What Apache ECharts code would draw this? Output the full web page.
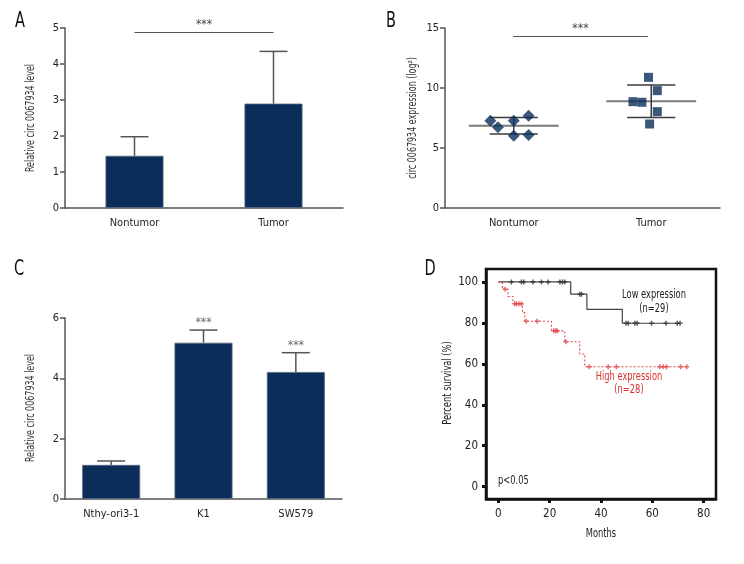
<!DOCTYPE html>
<html><head><meta charset="utf-8">
<script src="https://cdn.jsdelivr.net/npm/echarts@6/dist/echarts.min.js"></script>
<style>html,body{margin:0;padding:0;background:#fff}#c{width:744px;height:564px}</style>
</head><body><div id="c"></div>
<script>
// ---- Panel A ----
const catsA = ['Nontumor', 'Tumor'];
const meanA = [1.45, 2.9];
const errA = [0.53, 1.45];
const sigAValue = 4.89;
// ---- Panel B ----
const catsB = ['Nontumor', 'Tumor'];
const nontumorVals = [7.28, 6.72, 7.28, 7.69, 6.03, 6.08];
const nontumorJitter = [-0.17, -0.115, 0, 0.108, 0, 0.108];
const tumorVals = [10.89, 9.78, 8.86, 8.81, 8.03, 7.0];
const tumorJitter = [-0.02, 0.044, -0.133, -0.068, 0.044, -0.012];
const sigBValue = 14.33;
// ---- Panel C ----
const catsC = ['Nthy-ori3-1', 'K1', 'SW579'];
const meanC = [1.13, 5.18, 4.21];
const errC = [0.13, 0.42, 0.64];
const sigC = ['', '***', '***'];
// ---- Panel D (Kaplan-Meier) ----
const lowTimes = [0, 28.2, 34.5, 48.3, 70.8];
const lowSurv = [100, 94.0, 86.6, 79.8, 79.8];
const lowCensor = [5.1, 9.0, 9.9, 13.5, 16.8, 19.4, 24.0, 25.0, 25.9, 31.7, 32.4, 49.7, 50.6, 53.2, 54.1, 59.7, 65.3, 69.7, 70.8];
const highTimes = [0, 1.55, 3.75, 5.7, 9.4, 10.3, 20.7, 25.9, 31.7, 33.7, 73.4];
const highSurv = [100, 96.4, 92.9, 89.3, 85.0, 80.8, 76.1, 70.8, 64.8, 58.6, 58.6];
const highCensor = [2.7, 6.4, 7.0, 8.0, 9.0, 10.9, 15.1, 21.6, 22.4, 22.9, 26.3, 35.4, 42.8, 46.0, 62.9, 64.2, 65.5, 71.0, 73.4];
const kmTicks = [0, 20, 40, 60, 80];
const kmYTicks = [0, 20, 40, 60, 80, 100];

const FONT = '"Liberation Sans Narrow","DejaVu Sans Condensed","Liberation Sans",sans-serif';
const NAVY = '#0a2d5a';
const AX = '#555';
const SQ = 0.77; // horizontal squeeze to mimic the condensed typeface

function stepValue(times, surv, t) {
  let v = surv[0];
  for (let i = 0; i < times.length; i++) { if (times[i] <= t) v = surv[i]; }
  return v;
}
function meanSd(a) {
  const m = a.reduce((s, v) => s + v, 0) / a.length;
  const sd = Math.sqrt(a.reduce((s, v) => s + (v - m) * (v - m), 0) / (a.length - 1));
  return [m, sd];
}
function errRender(params, api) {
  const x = api.value(0), v = api.value(1), e = api.value(2);
  const p0 = api.coord([x, v]);
  const p1 = api.coord([x, v + e]);
  const cap = 14;
  return {type: 'group', children: [
    {type: 'line', shape: {x1: p0[0], y1: p0[1], x2: p1[0], y2: p1[1]}, style: {stroke: AX, lineWidth: 1.5}},
    {type: 'line', shape: {x1: p1[0] - cap, y1: p1[1], x2: p1[0] + cap, y2: p1[1]}, style: {stroke: AX, lineWidth: 1.5}}
  ]};
}
const statsB = [meanSd(nontumorVals), meanSd(tumorVals)];
function summaryRender(params, api) {
  const cx = api.value(0), m = api.value(1), sd = api.value(2);
  const pm = api.coord([cx, m]);
  const pu = api.coord([cx, m + sd]);
  const pl = api.coord([cx, m - sd]);
  const wide = api.size([0.327, 0])[0];
  const nar = api.size([0.175, 0])[0];
  return {type: 'group', children: [
    {type: 'line', shape: {x1: pm[0] - wide, y1: pm[1], x2: pm[0] + wide, y2: pm[1]}, style: {stroke: '#7a7a7a', lineWidth: 2}},
    {type: 'line', shape: {x1: pu[0] - nar, y1: pu[1], x2: pu[0] + nar, y2: pu[1]}, style: {stroke: '#3a3a3a', lineWidth: 1.5}},
    {type: 'line', shape: {x1: pl[0] - nar, y1: pl[1], x2: pl[0] + nar, y2: pl[1]}, style: {stroke: '#3a3a3a', lineWidth: 1.5}},
    {type: 'line', shape: {x1: pu[0], y1: pu[1], x2: pl[0], y2: pl[1]}, style: {stroke: '#3a3a3a', lineWidth: 1.5}}
  ]};
}

const tickLbl = {fontFamily: FONT, fontSize: 11, color: '#222'};
const plus = 'path://M-0.3,-1H0.3V-0.3H1V0.3H0.3V1H-0.3V0.3H-1V-0.3H-0.3Z';

function catAxis(grid, cats) {
  return {type: 'category', gridIndex: grid, data: cats,
    axisLine: {lineStyle: {color: AX, width: 1.5}},
    axisTick: {alignWithLabel: true, length: 5, lineStyle: {color: AX, width: 1.5}},
    axisLabel: Object.assign({margin: 10}, tickLbl)};
}
function valAxis(grid, max, interval) {
  return {type: 'value', gridIndex: grid, min: 0, max: max, interval: interval,
    splitLine: {show: false},
    axisLine: {show: true, lineStyle: {color: AX, width: 1.5}},
    axisTick: {show: true, length: 5, lineStyle: {color: AX, width: 1.5}},
    axisLabel: Object.assign({margin: 6}, tickLbl)};
}
function vName(text, x, y, size, color) {
  return {type: 'text', x: x, y: y, rotation: Math.PI / 2, scaleX: SQ, silent: true,
    style: {text: text, font: size + 'px ' + FONT, fill: color || '#333', align: 'center', verticalAlign: 'middle'}};
}
function hText(text, x, y, size, color, align) {
  return {type: 'text', x: x, y: y, scaleX: SQ, silent: true,
    style: {text: text, font: size + 'px ' + FONT, fill: color || '#222', align: align || 'center', verticalAlign: 'middle'}};
}

const chart = echarts.init(document.getElementById('c'), null, {renderer: 'canvas'});
const option = {
  animation: false,
  backgroundColor: '#fff',
  grid: [
    {left: 65, right: 401, top: 28, bottom: 356},
    {left: 445, right: 24, top: 28, bottom: 356},
    {left: 65, right: 402, top: 318, bottom: 65},
    {left: 486, right: 28, top: 269, bottom: 65, show: true, borderColor: '#111', borderWidth: 2.5, backgroundColor: 'transparent'}
  ],
  xAxis: [
    catAxis(0, catsA),
    catAxis(1, catsB),
    {type: 'value', gridIndex: 1, min: 0, max: 2, show: false},
    catAxis(2, catsC),
    {type: 'value', gridIndex: 3, min: -4.8, max: 84.8,
      splitLine: {show: false},
      axisLine: {show: true, onZero: false, lineStyle: {color: '#111', width: 2.5}},
      axisTick: {show: true, customValues: kmTicks, length: 4, lineStyle: {color: '#111', width: 3}},
      axisLabel: {customValues: kmTicks, margin: 9, fontFamily: FONT, fontSize: 11.5, color: '#222'}}
  ],
  yAxis: [
    valAxis(0, 5, 1),
    valAxis(1, 15, 5),
    valAxis(2, 6, 2),
    {type: 'value', gridIndex: 3, min: -6, max: 106.3,
      splitLine: {show: false},
      axisLine: {show: true, onZero: false, lineStyle: {color: '#111', width: 2.5}},
      axisTick: {show: true, customValues: kmYTicks, length: 4, lineStyle: {color: '#111', width: 3}},
      axisLabel: {customValues: kmYTicks, margin: 8, fontFamily: FONT, fontSize: 11.5, color: '#222'}}
  ],
  series: [
    // A
    {type: 'bar', xAxisIndex: 0, yAxisIndex: 0, data: meanA, barWidth: 58,
      itemStyle: {color: NAVY, borderColor: '#5a6a80', borderWidth: 0.8},
      markLine: {symbol: 'none', silent: true, lineStyle: {color: AX, width: 1.2, type: 'solid'},
        label: {show: true, position: 'middle', formatter: '***', fontFamily: FONT, fontSize: 12, color: '#444', distance: 1},
        data: [[{coord: [catsA[0], sigAValue]}, {coord: [catsA[1], sigAValue]}]]}},
    {type: 'custom', xAxisIndex: 0, yAxisIndex: 0, renderItem: errRender, z: 1,
      data: meanA.map((v, i) => [i, v, errA[i]])},
    // B
    {type: 'custom', xAxisIndex: 2, yAxisIndex: 1, renderItem: summaryRender, z: 1,
      data: statsB.map((s, i) => [i + 0.5, s[0], s[1]]),
      markLine: {symbol: 'none', silent: true, lineStyle: {color: AX, width: 1.2, type: 'solid'},
        label: {show: true, position: 'middle', formatter: '***', fontFamily: FONT, fontSize: 12, color: '#444', distance: 1},
        data: [[{coord: [0.495, sigBValue]}, {coord: [1.475, sigBValue]}]]}},
    {type: 'scatter', xAxisIndex: 2, yAxisIndex: 1, symbol: 'diamond', symbolSize: 12, z: 3,
      itemStyle: {color: NAVY},
      data: nontumorVals.map((v, i) => [0.5 + nontumorJitter[i], v])},
    {type: 'scatter', xAxisIndex: 2, yAxisIndex: 1, symbol: 'rect', symbolSize: 9, z: 3,
      itemStyle: {color: NAVY},
      data: tumorVals.map((v, i) => [1.5 + tumorJitter[i], v])},
    // C
    {type: 'bar', xAxisIndex: 3, yAxisIndex: 2, data: meanC, barWidth: 58,
      itemStyle: {color: NAVY, borderColor: '#5a6a80', borderWidth: 0.8}},
    {type: 'custom', xAxisIndex: 3, yAxisIndex: 2, renderItem: errRender, z: 1,
      data: meanC.map((v, i) => [i, v, errC[i]])},
    {type: 'scatter', xAxisIndex: 3, yAxisIndex: 2, symbolSize: 0, silent: true,
      data: meanC.map((v, i) => ({value: [i, v + errC[i]], label: {show: sigC[i] !== '', formatter: sigC[i]}})),
      label: {position: 'top', distance: 1, fontFamily: FONT, fontSize: 12, color: '#444'}},
    // D
    {type: 'line', xAxisIndex: 4, yAxisIndex: 3, step: 'end', symbol: 'none', z: 2,
      lineStyle: {color: '#444', width: 1.2},
      data: lowTimes.map((t, i) => [t, lowSurv[i]])},
    {type: 'line', xAxisIndex: 4, yAxisIndex: 3, step: 'end', symbol: 'none', z: 2,
      lineStyle: {color: '#e0474c', width: 1.1, type: [2, 2]},
      data: highTimes.map((t, i) => [t, highSurv[i]])},
    {type: 'scatter', xAxisIndex: 4, yAxisIndex: 3, symbol: plus, symbolSize: 5, z: 3,
      itemStyle: {color: '#333'},
      data: lowCensor.map(t => [t, stepValue(lowTimes, lowSurv, t)])},
    {type: 'scatter', xAxisIndex: 4, yAxisIndex: 3, symbol: plus, symbolSize: 5, z: 3,
      itemStyle: {color: '#e0474c'},
      data: highCensor.map(t => [t, stepValue(highTimes, highSurv, t)])}
  ],
  graphic: [
    hText('A', 20, 22, 21, '#111'),
    hText('B', 391, 22, 21, '#111'),
    hText('C', 19, 270, 21, '#111'),
    hText('D', 430, 270, 21, '#111'),
    vName('Relative circ 0067934 level', 31, 118, 11.5),
    vName('circ 0067934 expression (log²)', 413, 118, 11.5),
    vName('Relative circ 0067934 level', 31, 408, 11.5),
    vName('Percent survival (%)', 448, 383, 12, '#222'),
    hText('Months', 601, 534, 12),
    hText('Low expression', 654, 295, 12),
    hText('(n=29)', 654, 309, 12),
    hText('High expression', 629, 377, 12, '#d9302f'),
    hText('(n=28)', 629, 390, 12, '#d9302f'),
    hText('p<0.05', 498, 481, 12, '#222', 'left')
  ]
};
chart.setOption(option);
</script>
</body></html>
